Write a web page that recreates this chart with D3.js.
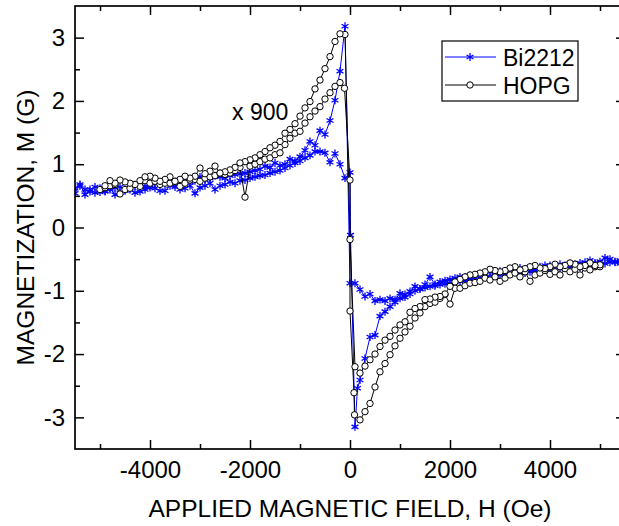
<!DOCTYPE html>
<html>
<head>
<meta charset="utf-8">
<script src="https://cdn.jsdelivr.net/npm/d3@7"></script>
<style>
  body { margin: 0; background: #fff; overflow: hidden; }
  text { font-family: "Liberation Sans", Arial, sans-serif; fill: #000; }
</style>
</head>
<body>
<div id="chart"></div>
<script>
// data: [H (Oe), M (G)] in sweep order
var seriesNames = ["Bi2212", "HOPG"];
var xTicks = [-4000, -2000, 0, 2000, 4000];
var yTicks = [-3, -2, -1, 0, 1, 2, 3];
var xMinor = [-5000, -3000, -1000, 1000, 3000, 5000];
var yMinor = [-2.5, -1.5, -0.5, 0.5, 1.5, 2.5];

var bi2212Up = [[-5500,0.54],[-5400,0.68],[-5300,0.52],[-5200,0.60],[-5100,0.55],[-5000,0.56],[-4900,0.57],[-4800,0.62],
  [-4700,0.52],[-4600,0.55],[-4500,0.58],[-4400,0.60],[-4300,0.55],[-4200,0.57],[-4100,0.60],[-4000,0.63],[-3900,0.62],
  [-3800,0.58],[-3700,0.58],[-3600,0.66],[-3500,0.64],[-3400,0.60],[-3300,0.62],[-3200,0.66],[-3100,0.54],[-3000,0.63],
  [-2900,0.66],[-2800,0.70],[-2700,0.60],[-2600,0.66],[-2500,0.68],[-2400,0.72],[-2300,0.70],[-2200,0.74],[-2100,0.75],
  [-2000,0.78],[-1900,0.80],[-1800,0.82],[-1700,0.83],[-1600,0.86],[-1500,0.88],[-1400,0.90],[-1300,0.94],[-1200,0.98],
  [-1100,1.02],[-1000,1.05],[-900,1.10],[-800,1.14],[-700,1.20],[-600,1.20],[-500,1.18],[-400,1.03],[-300,1.17],
  [-200,1.00],[-100,0.78],[0,0.87],[10,-0.12],[100,-3.15],[150,-2.54],[200,-2.41],[300,-2.07],[400,-1.73],[500,-1.70],
  [600,-1.40],[700,-1.33],[800,-1.25],[900,-1.18],[1000,-1.12],[1100,-1.10],[1200,-1.05],[1300,-1.00],[1400,-0.97],
  [1500,-0.95],[1600,-0.93],[1700,-0.92],[1800,-0.90],[1900,-0.89],[2000,-0.88],[2100,-0.86],[2200,-0.85],[2300,-0.84],
  [2400,-0.82],[2500,-0.80],[2600,-0.80],[2700,-0.78],[2800,-0.78],[2900,-0.76],[3000,-0.75],[3100,-0.74],[3200,-0.72],
  [3300,-0.70],[3400,-0.74],[3500,-0.72],[3600,-0.70],[3700,-0.69],[3800,-0.68],[3900,-0.66],[4000,-0.66],[4100,-0.67],
  [4200,-0.65],[4300,-0.63],[4400,-0.62],[4500,-0.61],[4600,-0.63],[4700,-0.62],[4800,-0.60],[4900,-0.58],[5000,-0.58],
  [5100,-0.57],[5200,-0.55],[5300,-0.54],[5400,-0.57],[5500,-0.55]];

var bi2212Down = [[5500,-0.50],[5400,-0.52],[5300,-0.55],[5200,-0.50],[5100,-0.48],[5000,-0.54],[4900,-0.56],[4800,-0.52],
  [4700,-0.55],[4600,-0.56],[4500,-0.58],[4400,-0.57],[4300,-0.60],[4200,-0.58],[4100,-0.62],[4000,-0.60],[3900,-0.60],
  [3800,-0.62],[3700,-0.65],[3600,-0.63],[3500,-0.66],[3400,-0.64],[3300,-0.68],[3200,-0.66],[3100,-0.70],[3000,-0.69],
  [2900,-0.72],[2800,-0.70],[2700,-0.74],[2600,-0.73],[2500,-0.75],[2400,-0.76],[2300,-0.78],[2200,-0.78],[2100,-0.80],
  [2000,-0.82],[1900,-0.84],[1800,-0.86],[1700,-0.90],[1600,-0.78],[1500,-0.90],[1400,-0.97],[1300,-0.93],[1200,-1.01],
  [1100,-1.06],[1000,-1.04],[900,-1.14],[800,-1.12],[700,-1.16],[600,-1.14],[500,-1.16],[400,-1.05],[300,-1.09],
  [200,-0.98],[100,-0.88],[0,-0.88],[-100,3.18],[-200,2.47],[-300,2.01],[-400,1.69],[-500,1.47],[-600,1.53],[-700,1.30],
  [-800,1.36],[-900,1.22],[-1000,1.12],[-1100,1.05],[-1200,1.08],[-1300,1.00],[-1400,0.98],[-1500,1.02],[-1600,0.95],
  [-1700,0.97],[-1800,0.92],[-1900,0.90],[-2000,0.88],[-2100,0.86],[-2200,0.85],[-2300,0.84],[-2400,0.82],[-2500,0.78],
  [-2600,0.80],[-2700,0.82],[-2800,0.78],[-2900,0.76],[-3000,0.80],[-3100,0.74],[-3200,0.72],[-3300,0.78],[-3400,0.75],
  [-3500,0.68],[-3600,0.70],[-3700,0.74],[-3800,0.72],[-3900,0.70],[-4000,0.66],[-4100,0.65],[-4200,0.68],[-4300,0.66],
  [-4400,0.62],[-4500,0.60],[-4600,0.64],[-4700,0.63],[-4800,0.60],[-4900,0.58],[-5000,0.62],[-5100,0.64],[-5200,0.57],
  [-5300,0.60],[-5400,0.66],[-5500,0.62]];

var hopgUp = [[-5000,0.60],[-4900,0.63],[-4800,0.66],[-4700,0.68],[-4600,0.53],[-4500,0.60],[-4400,0.62],[-4300,0.68],
  [-4200,0.65],[-4100,0.74],[-4000,0.70],[-3900,0.73],[-3800,0.68],[-3700,0.70],[-3600,0.70],[-3500,0.73],[-3400,0.65],
  [-3300,0.70],[-3200,0.75],[-3100,0.76],[-3000,0.73],[-2900,0.78],[-2800,0.80],[-2700,0.82],[-2600,0.86],[-2500,0.84],
  [-2400,0.86],[-2300,0.90],[-2200,0.95],[-2100,0.48],[-2000,0.97],[-1900,1.00],[-1800,1.04],[-1700,1.08],[-1600,1.10],
  [-1500,1.15],[-1400,1.18],[-1300,1.31],[-1200,1.41],[-1100,1.49],[-1000,1.52],[-900,1.65],[-800,1.75],[-700,1.84],
  [-600,1.91],[-500,2.03],[-400,2.13],[-300,2.23],[-200,2.29],[-110,2.20],[0,0.75],[0,-1.32],[80,-2.61],[90,-2.96],
  [200,-3.04],[300,-2.91],[400,-2.78],[500,-2.52],[600,-2.28],[700,-2.15],[800,-2.01],[900,-1.87],[1000,-1.75],
  [1100,-1.65],[1200,-1.56],[1300,-1.43],[1400,-1.35],[1500,-1.25],[1600,-1.20],[1700,-1.18],[1800,-1.12],[1900,-1.06],
  [2000,-1.21],[2100,-0.96],[2200,-0.96],[2300,-0.92],[2400,-0.88],[2500,-0.87],[2600,-0.85],[2700,-0.80],[2800,-0.83],
  [2900,-0.78],[3000,-0.85],[3100,-0.80],[3200,-0.75],[3300,-0.72],[3400,-0.78],[3500,-0.70],[3600,-0.85],[3700,-0.75],
  [3800,-0.72],[3900,-0.68],[4000,-0.74],[4100,-0.70],[4200,-0.75],[4300,-0.65],[4400,-0.70],[4500,-0.66],[4600,-0.75],
  [4700,-0.64],[4800,-0.67],[4900,-0.62],[5000,-0.62]];

var hopgDown = [[5000,-0.59],[4900,-0.60],[4800,-0.56],[4700,-0.60],[4600,-0.62],[4500,-0.58],[4400,-0.56],[4300,-0.60],
  [4200,-0.62],[4100,-0.58],[4000,-0.62],[3900,-0.65],[3800,-0.64],[3700,-0.60],[3600,-0.62],[3500,-0.65],[3400,-0.67],
  [3300,-0.62],[3200,-0.64],[3100,-0.68],[3000,-0.70],[2900,-0.68],[2800,-0.66],[2700,-0.70],[2600,-0.72],[2500,-0.74],
  [2400,-0.75],[2300,-0.78],[2200,-0.82],[2100,-0.86],[2000,-0.93],[1900,-1.05],[1800,-1.09],[1700,-1.10],[1600,-1.13],
  [1500,-1.14],[1400,-1.25],[1300,-1.28],[1200,-1.34],[1100,-1.49],[1000,-1.54],[900,-1.62],[800,-1.72],[700,-1.78],
  [600,-1.88],[500,-2.00],[400,-2.09],[300,-2.19],[200,-2.30],[100,-2.20],[0,-0.19],[-100,3.05],[-200,3.06],[-300,2.94],
  [-400,2.70],[-500,2.51],[-600,2.33],[-700,2.19],[-800,1.99],[-900,1.89],[-1000,1.76],[-1100,1.64],[-1200,1.55],
  [-1300,1.49],[-1400,1.36],[-1500,1.30],[-1600,1.26],[-1700,1.20],[-1800,1.15],[-1900,1.10],[-2000,1.07],[-2100,1.04],
  [-2200,1.02],[-2300,0.95],[-2400,0.91],[-2500,0.88],[-2600,0.86],[-2700,0.97],[-2800,0.89],[-2900,0.85],[-3000,0.94],
  [-3100,0.81],[-3200,0.78],[-3300,0.81],[-3400,0.76],[-3500,0.73],[-3600,0.80],[-3700,0.76],[-3800,0.73],[-3900,0.78],
  [-4000,0.81],[-4100,0.80],[-4200,0.74],[-4300,0.68],[-4400,0.70],[-4500,0.72],[-4600,0.75],[-4700,0.70],[-4800,0.74],
  [-4900,0.66]];

var width = 619, height = 526;
var blue = "#0000ff";

var svg = d3.select("#chart").append("svg")
    .attr("width", width)
    .attr("height", height);

var x = d3.scaleLinear().domain([-5500, 5500]).range([75, 625]);
var y = d3.scaleLinear().domain([-3.5, 3.5]).range([449, 6]);

svg.append("clipPath").attr("id", "plotclip")
  .append("rect")
  .attr("x", x(-5500)).attr("y", y(3.5))
  .attr("width", x(5500) - x(-5500)).attr("height", y(-3.5) - y(3.5));

var plot = svg.append("g").attr("clip-path", "url(#plotclip)");

var line = d3.line()
    .x(function(d) { return x(d[0]); })
    .y(function(d) { return y(d[1]); });

var star = d3.symbol().type(d3.symbolAsterisk).size(44);

// Bi2212 loop
var biLoop = bi2212Up.concat(bi2212Down);
plot.append("path")
  .datum(biLoop)
  .attr("d", line)
  .attr("fill", "none")
  .attr("stroke", blue)
  .attr("stroke-width", 1);
plot.selectAll(".bi")
    .data(biLoop)
  .enter().append("path")
  .attr("class", "bi")
  .attr("d", star)
  .attr("transform", function(d) { return "translate(" + x(d[0]) + "," + y(d[1]) + ")"; })
  .attr("fill", "none")
  .attr("stroke", blue)
  .attr("stroke-width", 1.3);

// HOPG loop
var hopgLoop = hopgUp.concat(hopgDown);
plot.append("path")
  .datum(hopgLoop)
  .attr("d", line)
  .attr("fill", "none")
  .attr("stroke", "#000")
  .attr("stroke-width", 1);
plot.selectAll(".hopg")
    .data(hopgLoop)
  .enter().append("circle")
  .attr("class", "hopg")
  .attr("cx", function(d) { return x(d[0]); })
  .attr("cy", function(d) { return y(d[1]); })
  .attr("r", 3.2)
  .attr("fill", "#fff")
  .attr("stroke", "#000")
  .attr("stroke-width", 1);

// axes, ticks point inward on all four sides
function styleAxis(g) {
  g.select(".domain").remove();
  g.selectAll("line").attr("stroke", "#000").attr("stroke-width", 1.5);
  g.selectAll("text").style("font-size", "24px").attr("fill", "#000");
}

svg.append("g")
  .attr("transform", "translate(0," + y(-3.5) + ")")
  .call(d3.axisBottom(x).tickValues(xTicks).tickSize(-9).tickPadding(12)
    .tickFormat(function(d) { return d < 0 ? "-" + Math.abs(d) : d; }))
  .call(styleAxis);
svg.append("g")
  .attr("transform", "translate(0," + y(-3.5) + ")")
  .call(d3.axisBottom(x).tickValues(xMinor).tickSize(-5).tickFormat(""))
  .call(styleAxis);
svg.append("g")
  .attr("transform", "translate(0," + y(3.5) + ")")
  .call(d3.axisTop(x).tickValues(xTicks).tickSize(-9).tickFormat(""))
  .call(styleAxis);
svg.append("g")
  .attr("transform", "translate(0," + y(3.5) + ")")
  .call(d3.axisTop(x).tickValues(xMinor).tickSize(-5).tickFormat(""))
  .call(styleAxis);

svg.append("g")
  .attr("transform", "translate(" + x(-5500) + ",0)")
  .call(d3.axisLeft(y).tickValues(yTicks).tickSize(-9).tickPadding(10)
    .tickFormat(function(d) { return d < 0 ? "-" + Math.abs(d) : d; }))
  .call(styleAxis);
svg.append("g")
  .attr("transform", "translate(" + x(-5500) + ",0)")
  .call(d3.axisLeft(y).tickValues(yMinor).tickSize(-5).tickFormat(""))
  .call(styleAxis);
svg.append("g")
  .attr("transform", "translate(" + x(5500) + ",0)")
  .call(d3.axisRight(y).tickValues(yTicks).tickSize(-9).tickFormat(""))
  .call(styleAxis);
svg.append("g")
  .attr("transform", "translate(" + x(5500) + ",0)")
  .call(d3.axisRight(y).tickValues(yMinor).tickSize(-5).tickFormat(""))
  .call(styleAxis);

// frame
svg.append("rect")
  .attr("x", x(-5500)).attr("y", y(3.5))
  .attr("width", x(5500) - x(-5500)).attr("height", y(-3.5) - y(3.5))
  .attr("fill", "none")
  .attr("stroke", "#000")
  .attr("stroke-width", 1.7);

// axis titles
svg.append("text")
  .attr("x", 350).attr("y", 517)
  .attr("text-anchor", "middle")
  .style("font-size", "24.5px")
  .text("APPLIED MAGNETIC FIELD, H (Oe)");
svg.append("text")
  .attr("transform", "translate(34," + y(0) + ") rotate(-90)")
  .attr("text-anchor", "middle")
  .style("font-size", "24.5px")
  .text("MAGNETIZATION, M (G)");

svg.append("text")
  .attr("x", 232).attr("y", 120)
  .style("font-size", "23px")
  .text("x 900");

// legend
var legend = svg.append("g");
legend.append("rect")
  .attr("x", 442).attr("y", 41)
  .attr("width", 136).attr("height", 60)
  .attr("fill", "#fff")
  .attr("stroke", "#000")
  .attr("stroke-width", 1.2);
var legendY = [57, 85];
seriesNames.forEach(function(name, i) {
  var col = i == 0 ? blue : "#000";
  legend.append("line")
    .attr("x1", 445).attr("x2", 496)
    .attr("y1", legendY[i]).attr("y2", legendY[i])
    .attr("stroke", col).attr("stroke-width", 1);
  if (i == 0) {
    legend.append("path")
      .attr("d", star)
      .attr("transform", "translate(470," + legendY[i] + ")")
      .attr("fill", "none").attr("stroke", blue).attr("stroke-width", 1.3);
  } else {
    legend.append("circle")
      .attr("cx", 470).attr("cy", legendY[i]).attr("r", 3.2)
      .attr("fill", "#fff").attr("stroke", "#000");
  }
  legend.append("text")
    .attr("x", 503).attr("y", legendY[i] + 8.5)
    .style("font-size", "23px")
    .text(name);
});
</script>
</body>
</html>
